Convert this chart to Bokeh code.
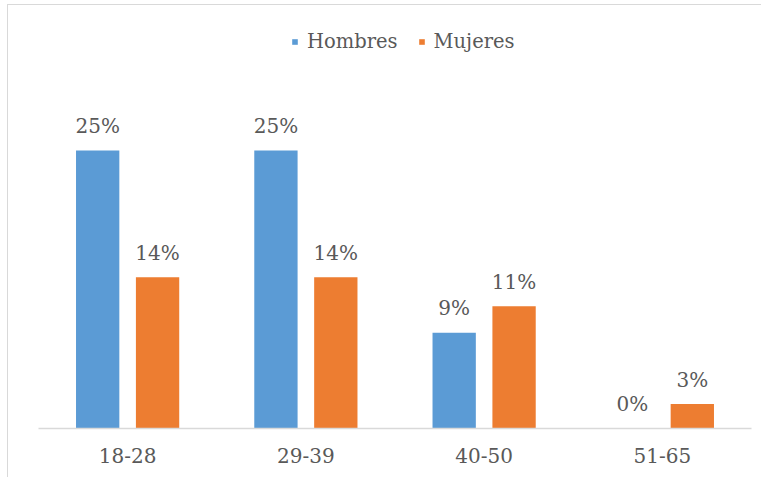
from bokeh.plotting import figure
from bokeh.models import ColumnDataSource, FactorRange, Range1d, LabelSet, Legend, LegendItem
from bokeh.transform import dodge
from bokeh.core.properties import value
from bokeh.embed import file_html
from bokeh.resources import INLINE

categories = ["18-28", "29-39", "40-50", "51-65"]
hombres = [25.0, 25.0, 8.6, 0.0]
mujeres = [13.6, 13.6, 11.0, 2.2]
hombres_labels = ["25%", "25%", "9%", "0%"]
mujeres_labels = ["14%", "14%", "11%", "3%"]

BLUE = "#5B9BD5"
ORANGE = "#ED7D31"
TXT = "#595959"
FONT = "DejaVu Serif"
FS = "20px"

src = ColumnDataSource(dict(cat=categories, h=hombres, m=mujeres,
                            hl=hombres_labels, ml=mujeres_labels))

W, H = 761, 477
p = figure(width=W, height=H, output_backend="svg", toolbar_location=None,
           x_range=FactorRange(factors=categories, range_padding=0),
           y_range=Range1d(0, 428 / 11.12),
           min_border_left=38, min_border_right=10, min_border_top=0,
           min_border_bottom=49)
p.outline_line_color = None
p.xgrid.visible = False
p.ygrid.visible = False
p.yaxis.visible = False
p.background_fill_color = None
p.border_fill_color = None
p.styles = {"background": "linear-gradient(#D9D9D9,#D9D9D9) 7px 4px / 1px 100% no-repeat, "
                          "linear-gradient(#D9D9D9,#D9D9D9) 7px 4px / 100% 1px no-repeat, white"}

bw = 0.243
r1 = p.vbar(x=dodge("cat", -0.168, range=p.x_range), top="h", width=bw, source=src,
            fill_color=BLUE, line_color=None)
r2 = p.vbar(x=dodge("cat", 0.168, range=p.x_range), top="m", width=bw, source=src,
            fill_color=ORANGE, line_color=None)

for col, off in (("h", -0.168), ("m", 0.168)):
    lbl = LabelSet(x=dodge("cat", off, range=p.x_range), y=col, text=col + "l",
                   source=src, text_align="center", text_baseline="alphabetic",
                   y_offset=17.5, text_font=value(FONT), text_font_size=value(FS),
                   text_color=TXT)
    p.add_layout(lbl)

ax = p.xaxis[0]
ax.axis_line_color = "#D9D9D9"
ax.axis_line_width = 1.5
ax.major_tick_line_color = None
ax.minor_tick_line_color = None
ax.major_label_text_font = FONT
ax.major_label_text_font_size = FS
ax.major_label_text_color = TXT
ax.major_label_standoff = 13

legend = Legend(items=[LegendItem(label="Hombres", renderers=[r1]),
                       LegendItem(label="Mujeres", renderers=[r2])],
                orientation="horizontal", location=(253, 375),
                label_text_font=FONT, label_text_font_size="19.5px",
                label_text_color=TXT, glyph_width=7, glyph_height=7,
                label_standoff=9, spacing=20, padding=0, margin=0,
                border_line_color=None, background_fill_alpha=0)
p.add_layout(legend, "center")

open("out.html", "w").write(file_html(p, INLINE))
